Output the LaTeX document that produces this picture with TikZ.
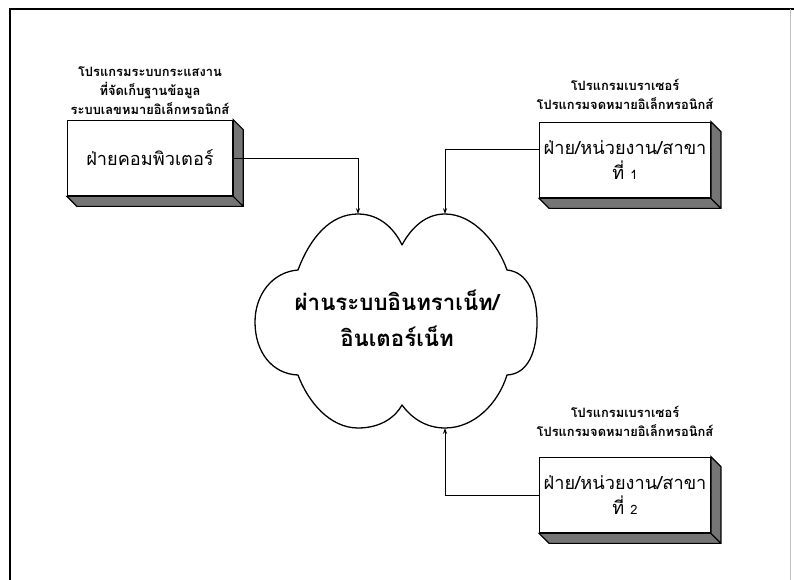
\documentclass[tikz,border=0pt]{standalone}
\usepackage{fontspec}
\setmainfont{Loma}[Script=Thai]
\usetikzlibrary{arrows.meta,positioning,calc}
\tikzset{
	slab depth/.store in=\slabdepth,
	slab depth=10,
	slab/.style={draw, fill=white, line width=1.2pt,
		minimum width=49.5mm, minimum height=22.6mm,
		align=center, font=\fontsize{15.5}{22}\selectfont,
		prefix after command={\pgfextra{\let\fixname\tikzlastnode}},
		append after command={\pgfextra{\filldraw[line width=1pt, fill=gray!65!black!80]
			(\fixname.north east) -- ([shift={(\slabdepth,\slabdepth)}]\fixname.north east)
			-- ([shift={(\slabdepth,\slabdepth)}]\fixname.south east)
			-- ([shift={(\slabdepth,\slabdepth)}]\fixname.south west)
			-- (\fixname.south west) -- (\fixname.south east) -- cycle
			(\fixname.south east) -- ([shift={(\slabdepth,\slabdepth)}]\fixname.south east);
		}}},
	note/.style={align=center, inner sep=0pt, font=\bfseries\fontsize{11}{16}\selectfont},
	link/.style={-{Stealth[length=5pt,width=3.5pt]}, line width=.8pt},
	cloudline/.style={line width=1.1pt, line join=round}
}
\begin{document}
\begin{tikzpicture}[x=0.3mm, y=-0.3mm]
	\useasboundingbox (0,0) rectangle (794,580);
	\draw[line width=1.3pt] (10,580) -- (10,9) -- (794,9);
	\draw[gray!50] (790,9) -- (790,580);
	\node[slab] (comp) at (150,158) {ฝ่ายคอมพิวเตอร์};
	\node[slab] (unit1) at (625,160) {ฝ่าย/หน่วยงาน/สาขา\\ที่ {\fontsize{11}{13}\selectfont 1}};
	\node[slab] (unit2) at (625,495) {ฝ่าย/หน่วยงาน/สาขา\\ที่ {\fontsize{11}{13}\selectfont 2}};
	\node[note, above=1.5mm of comp] (compnote) {โปรแกรมระบบกระแสงาน\\ที่จัดเก็บฐานข้อมูล\\ระบบเลขหมายอิเล็กทรอนิกส์};
	\node[note, above=3.5mm of unit1] (unit1note) {โปรแกรมเบราเซอร์\\โปรแกรมจดหมายอิเล็กทรอนิกส์};
	\node[note, above=6mm of unit2] (unit2note) {โปรแกรมเบราเซอร์\\โปรแกรมจดหมายอิเล็กทรอนิกส์};
	\coordinate (netTL) at (358,214);
	\coordinate (netTR) at (445,214);
	\coordinate (netBR) at (445,428);
	\draw[cloudline] (298,270) .. controls (310,238) and (330,214) .. (netTL)
		.. controls (382,214) and (396,232) .. (402,245)
		.. controls (410,230) and (424,214) .. (netTR)
		.. controls (474,214) and (498,244) .. (507,270)
		.. controls (528,272) and (537,295) .. (537,322)
		.. controls (537,352) and (528,374) .. (507,375)
		.. controls (498,404) and (474,428) .. (netBR)
		.. controls (424,428) and (410,416) .. (402,405)
		.. controls (396,416) and (382,428) .. (358,428)
		.. controls (330,428) and (308,402) .. (298,375)
		.. controls (272,374) and (255,352) .. (255,322)
		.. controls (255,295) and (272,272) .. (298,270) -- cycle;
	\node[align=center, font=\bfseries\fontsize{19}{31}\selectfont] (net) at (397,318) {ผ่านระบบอินทราเน็ท/\\อินเตอร์เน็ท};
	\draw[link] (comp.east) -| (netTL);
	\draw[link] ([yshift=3.3mm]unit1.west) -| (netTR);
	\draw[link] (unit2.west) -| (netBR);
\end{tikzpicture}
\end{document}
